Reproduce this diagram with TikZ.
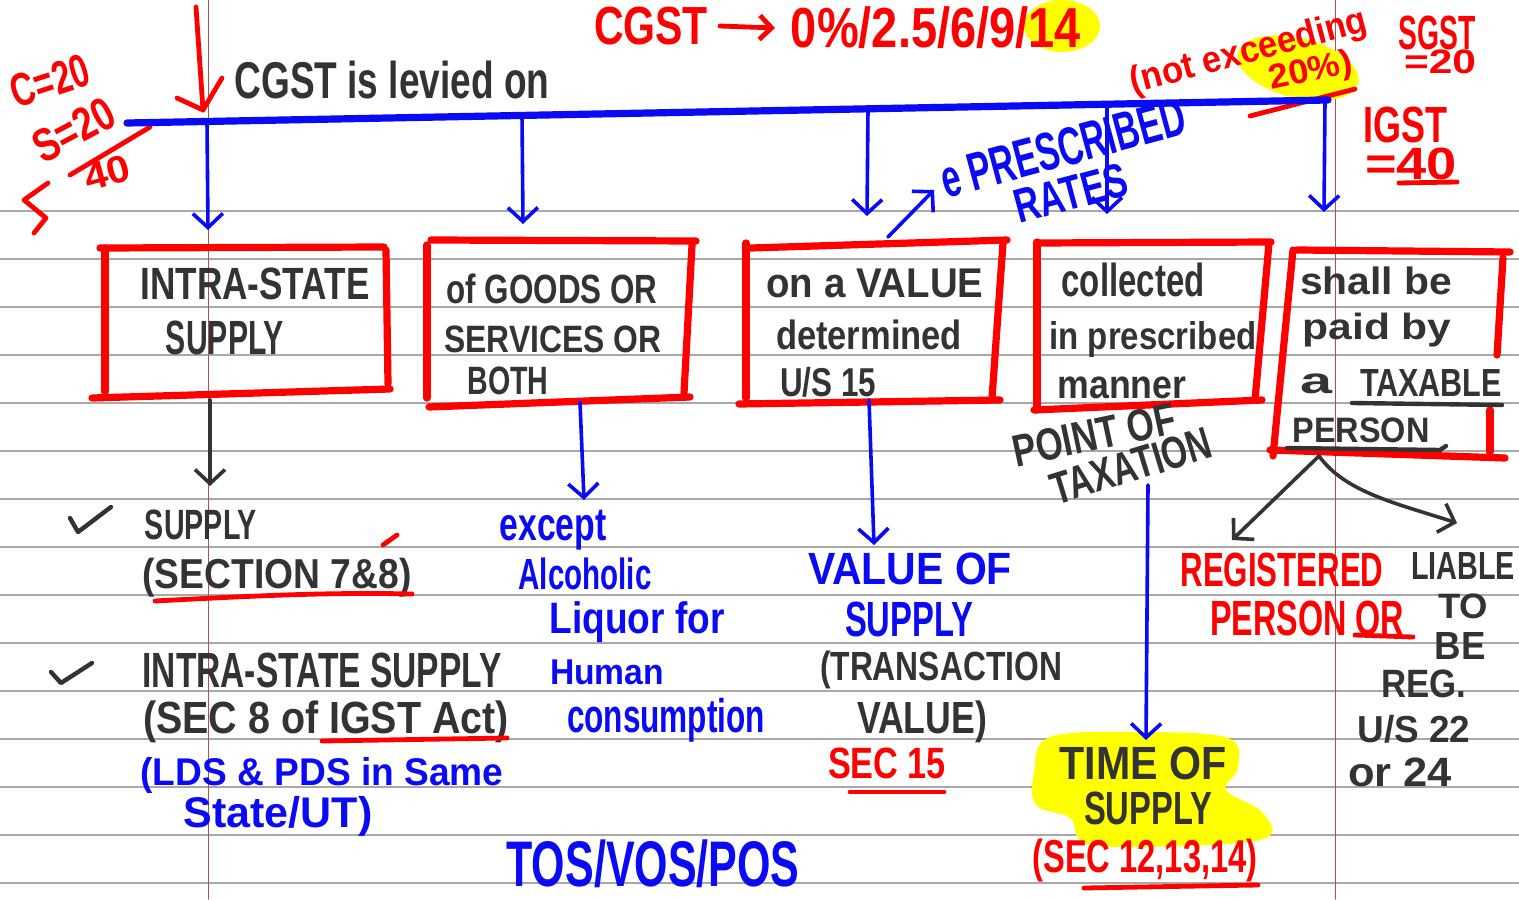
\documentclass[tikz,border=0pt]{standalone}
\usepackage{fontspec}
\setmainfont{Liberation Sans}
\usetikzlibrary{arrows.meta}
\newdimen\pxu \pxu=0.5pt
\newcommand{\hw}[3]{\resizebox*{#1\pxu}{#2\pxu}{\bfseries #3}}
\definecolor{pred}{HTML}{FF0000}
\definecolor{pblue}{HTML}{0A0AF5}
\definecolor{ink}{HTML}{333333}
\definecolor{hl}{HTML}{FFFF00}
\definecolor{rulec}{HTML}{A8A8A8}
\definecolor{marginc}{HTML}{B05050}
\begin{document}
\begin{tikzpicture}[x=0.5pt,y=-0.5pt,line cap=round,line join=round,
  txt/.style={inner sep=0pt,outer sep=0pt,anchor=center},
  redtxt/.style={txt,text=pred},
  bluetxt/.style={txt,text=pblue},
  inktxt/.style={txt,text=ink},
  rulel/.style={draw=rulec,line width=0.8pt},
  marginl/.style={draw=marginc,line width=0.5pt},
  boxl/.style={draw=pred,line width=3.6pt},
  bus/.style={draw=pblue,line width=3.6pt},
  bluearr/.style={draw=pblue,line width=1.8pt,-{Straight Barb[length=7pt,width=15pt,line width=1.8pt]}},
  inkarr/.style={draw=ink,line width=1.8pt,-{Straight Barb[length=7pt,width=15pt,line width=1.8pt]}},
  redarr/.style={draw=pred,line width=2.4pt,-{Straight Barb[length=6pt,width=12pt,line width=2.4pt]}},
  redstroke/.style={draw=pred,line width=2.4pt},
  inkstroke/.style={draw=ink,line width=2.2pt},
  hilite/.style={fill=hl,draw=none}]
% page
\fill[white] (0,0) rectangle (1519,899);
\useasboundingbox (0,0) rectangle (1519,899);
% ruled lines
\foreach \yy in {211,259,307,355,403,451,499,547,595,643,691,739,787,835,883}
  \draw[rulel] (0,\yy) -- (1519,\yy);
\draw[marginl] (208,0) -- (208,899);
\draw[marginl] (1335,0) -- (1335,899);
% highlights
\fill[hilite] (1062,26) ellipse [x radius=38, y radius=26];
\fill[hilite,rotate around={-14:(1298,68)}] (1298,68) ellipse [x radius=62, y radius=30];
\fill[hilite] plot[smooth cycle,tension=0.6] coordinates {(1050,737) (1140,732) (1228,738) (1238,768) (1226,790) (1262,812) (1266,838) (1180,846) (1088,844) (1070,818) (1036,805) (1034,772)};
% top texts
\node[inktxt] (levied) at (392,80) {\hw{315}{38}{CGST is levied on}};
\node[redtxt] (cgstr) at (651,26) {\hw{114}{38}{CGST}};
\node[redtxt] (rates) at (936,28) {\hw{290}{42}{0\%/2.5/6/9/14}};
\draw[redarr] ([xshift=6pt]cgstr.east) -- ([xshift=-8pt]rates.west);
\node[redtxt,rotate=15] (notex) at (1249,53) {\hw{244}{35}{(not exceeding}};
\node[redtxt,rotate=12] (twenty) at (1311,72) {\hw{84}{32}{20\%)}};
\draw[redstroke] (1250,116) -- (1355,89);
\node[redtxt] (sgst) at (1437,33) {\hw{77}{34}{SGST}};
\node[redtxt] (sgstv) at (1440,62) {\hw{72}{24}{=20}};
\node[redtxt] (igst) at (1405,125) {\hw{84}{36}{IGST}};
\node[redtxt] (igstv) at (1411,164) {\hw{92}{32}{=40}};
\draw[redstroke] (1399,183) -- (1457,182);
\node[redtxt,rotate=18] (cval) at (50,81) {\hw{80}{33}{C=20}};
\node[redtxt,rotate=28] (sval) at (74,130) {\hw{86}{33}{S=20}};
\node[redtxt,rotate=15] (tot) at (107,173) {\hw{46}{27}{40}};
\draw[redstroke] (70,175) -- (150,127);
\draw[redstroke] (48,183) -- (24,200) -- (46,218) -- (34,233);
% red arrow to heading
\coordinate (ra1) at (196,7);
\coordinate (ra2) at (203,110);
\draw[redstroke] (ra1) -- (ra2);
\draw[redstroke] (177,98) -- (ra2) -- (222,78);
% blue bus line
\coordinate (busL) at (127,123);
\coordinate (busR) at (1328,100);
\draw[bus] (busL) -- (busR);
\coordinate (d1) at (207,121.5);
\coordinate (d2) at (522,115.5);
\coordinate (d3) at (868,109);
\coordinate (d4) at (1107,104.5);
\coordinate (d5) at (1325,100);
\coordinate (e1) at (208,230);
\coordinate (e2) at (523,224);
\coordinate (e3) at (867,216);
\coordinate (e4) at (1107,214);
\coordinate (e5) at (1324,212);
\draw[bluearr] (d1) -- (e1);
\draw[bluearr] (d2) -- (e2);
\draw[bluearr] (d3) -- (e3);
\draw[bluearr] (d4) -- (e4);
\draw[bluearr] (d5) -- (e5);
% prescribed rates
\coordinate (pa1) at (888,237);
\coordinate (pa2) at (934,190);
\draw[bluearr] (pa1) -- (pa2);
\node[bluetxt,rotate=15] (presc) at (1063,148) {\hw{252}{38}{e PRESCRIBED}};
\node[bluetxt,rotate=15] (ratesb) at (1071,193) {\hw{115}{34}{RATES}};
% boxes
\draw[boxl] (100,248) -- (384,247);
\draw[boxl] (105,248) -- (105,392);
\draw[boxl] (386,250) -- (388,384);
\draw[boxl] (92,398) -- (390,389);
\draw[boxl] (431,240) -- (696,241);
\draw[boxl] (427,245) -- (427,398);
\draw[boxl] (692,245) -- (684,393);
\draw[boxl] (429,407) -- (690,397);
\draw[boxl] (751,248) -- (1007,240);
\draw[boxl] (746,243) -- (746,398);
\draw[boxl] (1003,243) -- (992,398);
\draw[boxl] (739,404) -- (1000,400);
\draw[boxl] (1037,243) -- (1271,242);
\draw[boxl] (1037,242) -- (1037,410);
\draw[boxl] (1269,243) -- (1255,400);
\draw[boxl] (1034,410) -- (1262,400);
\draw[boxl] (1297,250) -- (1510,252);
\draw[boxl] (1293,250) -- (1273,456);
\draw[boxl] (1503,258) -- (1497,355);
\draw[boxl] (1490,410) -- (1490,452);
\draw[boxl] (1270,450) -- (1505,458);
% box texts
\node[inktxt] (b1a) at (255,284) {\hw{229}{32}{INTRA-STATE}};
\node[inktxt] (b1b) at (225,338) {\hw{118}{34}{SUPPLY}};
\node[inktxt] (b2a) at (552,289) {\hw{211}{30}{of GOODS OR}};
\node[inktxt] (b2b) at (553,339) {\hw{217}{27}{SERVICES OR}};
\node[inktxt] (b2c) at (508,381) {\hw{81}{28}{BOTH}};
\node[inktxt] (b3a) at (875,283) {\hw{217}{29}{on a VALUE}};
\node[inktxt] (b3b) at (869,335) {\hw{186}{30}{determined}};
\node[inktxt] (b3c) at (828,382) {\hw{96}{30}{U/S 15}};
\node[inktxt] (b4a) at (1133,280) {\hw{143}{34}{collected}};
\node[inktxt] (b4b) at (1153,340) {\hw{207}{36}{in prescribed}};
\node[inktxt] (b4c) at (1122,388) {\hw{129}{22}{manner}};
\node[inktxt] (b5a) at (1376,281) {\hw{152}{28}{shall be}};
\node[inktxt] (b5b) at (1377,330) {\hw{149}{34}{paid by}};
\node[inktxt] (b5c) at (1316,384) {\hw{32}{20}{a}};
\node[inktxt] (b5d) at (1431,383) {\hw{142}{27}{TAXABLE}};
\draw[inkstroke] (1352,403) -- (1502,405);
\node[inktxt] (b5e) at (1361,430) {\hw{137}{25}{PERSON}};
\draw[inkstroke] (1287,448) -- (1440,450) -- (1446,446);
% arrows below boxes
\coordinate (f1) at (210,400);
\coordinate (g1) at (210,486);
\draw[inkarr] (f1) -- (g1);
\coordinate (f2) at (580,402);
\coordinate (g2) at (584,500);
\draw[bluearr] (f2) -- (g2);
\coordinate (f3) at (869,400);
\coordinate (g3) at (874,545);
\draw[bluearr] (f3) -- (g3);
\coordinate (f4) at (1148,485);
\coordinate (g4) at (1146,740);
\draw[bluearr] (f4) -- (g4);
\coordinate (p0) at (1319,456);
\coordinate (pl) at (1232,540);
\coordinate (pr) at (1457,523);
\draw[inkarr] (p0) -- (pl);
\draw[inkarr] (p0) .. controls (1345,492) and (1395,503) .. (pr);
% left column
\draw[inkstroke] (70,518) -- (78,532) -- (111,507);
\node[inktxt] (s1) at (201,525) {\hw{112}{30}{SUPPLY}};
\node[inktxt] (s2) at (277,578) {\hw{269}{39}{(SECTION 7\&8)}};
\draw[redstroke] (383,545) -- (397,535);
\draw[redstroke] (155,601) .. controls (250,596) and (330,592) .. (412,594);
\draw[inkstroke] (51,672) -- (61,683) -- (92,663);
\node[inktxt] (s3) at (322,670) {\hw{359}{35}{INTRA-STATE SUPPLY}};
\node[inktxt] (s4) at (326,722) {\hw{366}{42}{(SEC 8 of IGST Act)}};
\draw[redstroke] (322,741) -- (507,738);
\node[bluetxt] (s5) at (322,776) {\hw{363}{36}{(LDS \& PDS in Same}};
\node[bluetxt] (s6) at (278,816) {\hw{189}{40}{State/UT)}};
\node[bluetxt] (s7) at (653,864) {\hw{293}{48}{TOS/VOS/POS}};
% except column
\node[bluetxt] (x1) at (553,530) {\hw{107}{40}{except}};
\node[bluetxt] (x2) at (585,574) {\hw{133}{32}{Alcoholic}};
\node[bluetxt] (x3) at (637,622) {\hw{175}{41}{Liquor for}};
\node[bluetxt] (x4) at (607,672) {\hw{114}{25}{Human}};
\node[bluetxt] (x5) at (666,720) {\hw{198}{44}{consumption}};
% value column
\node[bluetxt] (v1) at (910,569) {\hw{204}{32}{VALUE OF}};
\node[bluetxt] (v2) at (909,619) {\hw{128}{35}{SUPPLY}};
\node[inktxt] (v3) at (941,670) {\hw{242}{38}{(TRANSACTION}};
\node[inktxt] (v4) at (922,722) {\hw{130}{42}{VALUE)}};
\node[redtxt] (v5) at (887,763) {\hw{118}{31}{SEC 15}};
\draw[redstroke] (850,792) -- (944,792);
% point of taxation / time of supply
\node[inktxt,rotate=12] (pt1) at (1094,435) {\hw{165}{32}{POINT OF}};
\node[inktxt,rotate=17] (pt2) at (1131,466) {\hw{166}{32}{TAXATION}};
\node[inktxt] (ts1) at (1143,763) {\hw{167}{33}{TIME OF}};
\node[inktxt] (ts2) at (1148,808) {\hw{128}{33}{SUPPLY}};
\node[redtxt] (ts3) at (1145,861) {\hw{225}{43}{(SEC 12,13,14)}};
\draw[redstroke] (1084,888) -- (1258,885);
% registered / liable
\node[redtxt] (r1) at (1282,570) {\hw{203}{34}{REGISTERED}};
\node[redtxt] (r2) at (1307,618) {\hw{194}{35}{PERSON OR}};
\draw[redstroke] (1355,635) -- (1413,637);
\node[inktxt] (l1) at (1463,566) {\hw{104}{27}{LIABLE}};
\node[inktxt] (l2) at (1463,606) {\hw{50}{25}{TO}};
\node[inktxt] (l3) at (1460,646) {\hw{51}{27}{BE}};
\node[inktxt] (l4) at (1424,684) {\hw{85}{28}{REG.}};
\node[inktxt] (l5) at (1414,729) {\hw{113}{28}{U/S 22}};
\node[inktxt] (l6) at (1400,772) {\hw{104}{29}{or 24}};
\end{tikzpicture}
\end{document}
